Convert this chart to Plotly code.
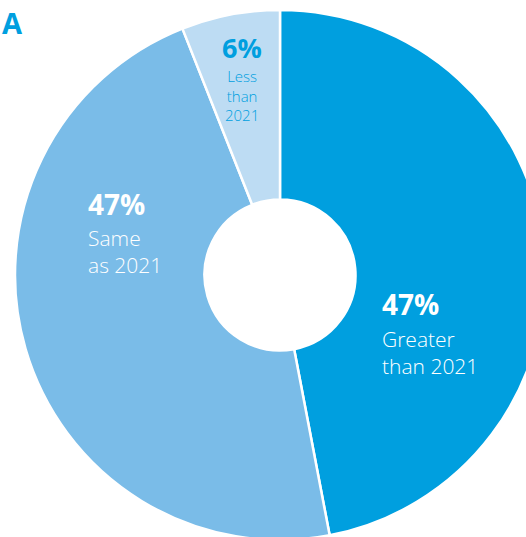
import plotly.graph_objects as go

# ---- data ----
categories = ["Greater than 2021", "Same as 2021", "Less than 2021"]
values = [47, 47, 6]
label_lines = [["Greater", "than 2021"], ["Same", "as 2021"], ["Less", "than", "2021"]]
panel_label = "A"

# ---- styling ----
colors = ["#009FDF", "#7ABCE8", "#BDDCF3"]
W, H = 545, 540          # figure larger than the window: pie is clipped like reference
R = 265                  # outer radius in px
CX, CY = 280, 275        # pie centre in px
FONT = "Open Sans"

fig = go.Figure(go.Pie(
    labels=categories,
    values=values,
    sort=False,
    direction="clockwise",
    rotation=0,
    hole=75.5 / R,
    marker=dict(colors=colors, line=dict(color="white", width=2.5)),
    textinfo="none",
    hoverinfo="label+percent",
    showlegend=False,
    domain=dict(x=[(CX - R) / W, (CX + R) / W], y=[1 - (CY + R) / H, 1 - (CY - R) / H]),
))

def px(x):
    return x / W

def py(y):
    return 1 - y / H

ann = []
# label group positions: x (left or centre), baseline of percentage, baseline of first text line
groups = [
    dict(x=380, anchor="left", pct_base=314, txt_base=346, big=28, small=21, color="white"),
    dict(x=86, anchor="left", pct_base=214, txt_base=245, big=28, small=21, color="white"),
    dict(x=242, anchor="center", pct_base=57, txt_base=81.5, big=27, small=15, color="#009FDF"),
]
for v, lines, g in zip(values, label_lines, groups):
    # percentage (bold)
    ann.append(dict(
        text=f"{v}%", x=px(g["x"]), y=py(g["pct_base"] - 0.36 * g["big"]),
        xref="paper", yref="paper", xanchor=g["anchor"], yanchor="middle", showarrow=False,
        font=dict(family=FONT, size=g["big"], color=g["color"], weight=700),
    ))
    # descriptive text block
    s = g["small"]
    last_base = g["txt_base"] + 1.3 * s * (len(lines) - 1)
    ann.append(dict(
        text="<br>".join(lines), x=px(g["x"]),
        y=py((g["txt_base"] + last_base) / 2 - 0.36 * s),
        xref="paper", yref="paper", xanchor=g["anchor"], yanchor="middle", showarrow=False,
        align="left" if g["anchor"] == "left" else "center",
        font=dict(family=FONT, size=s, color=g["color"], weight=300),
    ))

ann.append(dict(
    text=panel_label, x=px(0), y=py(22), xref="paper", yref="paper",
    xanchor="left", yanchor="middle", showarrow=False,
    font=dict(family=FONT, size=29, color="#009FDF", weight=700),
))

fig.update_layout(
    width=W, height=H, autosize=False,
    margin=dict(l=0, r=0, t=0, b=0),
    paper_bgcolor="white", plot_bgcolor="white",
    annotations=ann,
)

fig.write_html(
    "out.html",
    config={"displayModeBar": False},
    post_script="document.body.style.margin='0';document.body.style.overflow='hidden';",
)
